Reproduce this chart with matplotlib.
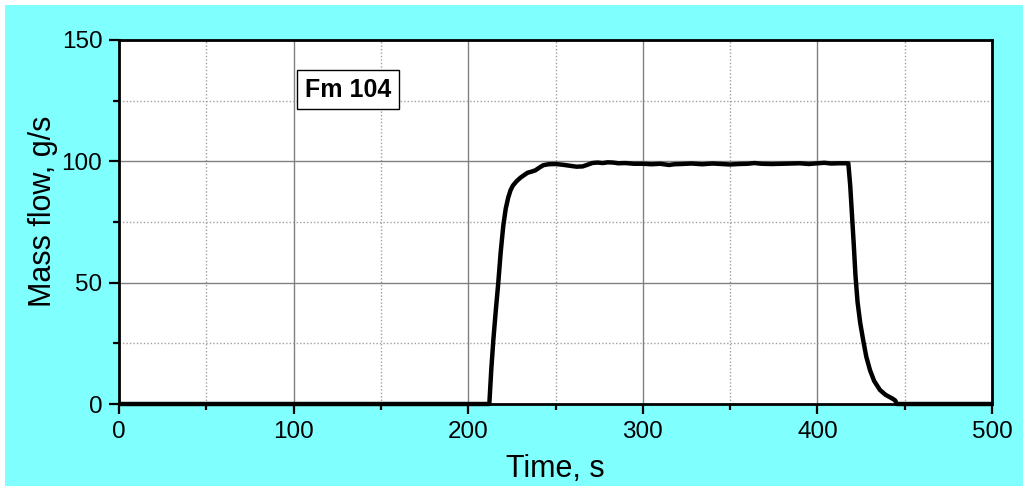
import matplotlib
matplotlib.use("Agg")
import matplotlib.pyplot as plt
from matplotlib.ticker import MultipleLocator
from matplotlib.patches import Rectangle

time_s = [0, 212.1, 213.2, 214.4, 215.8, 217.2, 218.6, 220.1, 221.5, 222.9, 224.2,
          225.6, 227.7, 230.0, 232.0, 234.0, 236.5, 238.5, 240.5, 243.0, 246.0,
          250.0, 254.0, 258.0, 262.0, 265.5, 268.0, 271.0, 274.0, 277.0, 280.0,
          283.0, 286.0, 290.0, 295.0, 300.0, 305.0, 310.0, 315.0, 318.0, 322.0,
          328.0, 334.0, 340.0, 345.0, 350.0, 355.0, 360.0, 364.0, 368.0, 374.0,
          380.0, 385.0, 390.0, 395.0, 400.0, 404.0, 408.0, 412.0, 415.0, 417.7,
          418.8, 419.8, 420.8, 421.8, 423.0, 424.5, 426.3, 428.0, 430.1, 432.5,
          435.8, 439.0, 441.5, 443.5, 444.6, 445.5, 500]
mass_flow = [0, 0, 14.0, 26.4, 38.5, 49.7, 62.5, 73.5, 80.5, 85.0, 88.0,
             90.0, 91.8, 93.3, 94.3, 95.3, 95.8, 96.3, 97.3, 98.4, 98.8,
             98.9, 98.6, 98.2, 97.8, 97.9, 98.5, 99.3, 99.5, 99.3, 99.6,
             99.5, 99.2, 99.3, 99.0, 99.0, 98.8, 99.0, 98.5, 98.8, 98.9,
             99.1, 98.8, 99.1, 98.9, 98.7, 98.9, 99.0, 99.3, 99.0, 98.9,
             99.0, 99.1, 99.2, 98.9, 99.2, 99.4, 99.1, 99.2, 99.2, 99.2,
             90.0, 78.0, 66.0, 53.0, 42.0, 33.5, 26.0, 19.5, 14.0, 9.5,
             5.8, 3.8, 2.8, 2.0, 1.4, 0, 0]

fig = plt.figure(figsize=(10.23, 4.86), dpi=100)
fig.patch.set_facecolor("white")
fig.patches.append(Rectangle((5 / 1023, 0), 1 - 5 / 1023, 1 - 5 / 486,
                             transform=fig.transFigure, facecolor="#80FFFF",
                             edgecolor="none", zorder=-10))

ax = fig.add_axes([119 / 1023, 1 - 404 / 486, (992 - 119) / 1023, (404 - 40) / 486])
ax.set_facecolor("white")
ax.plot(time_s, mass_flow, color="black", lw=3.2, zorder=5, clip_on=False,
        solid_joinstyle="round", solid_capstyle="butt")

ax.set_xlim(0, 500)
ax.set_ylim(0, 150)
ax.xaxis.set_major_locator(MultipleLocator(100))
ax.xaxis.set_minor_locator(MultipleLocator(50))
ax.yaxis.set_major_locator(MultipleLocator(50))
ax.yaxis.set_minor_locator(MultipleLocator(25))

ax.grid(which="major", color="#808080", lw=1.0, ls="-")
ax.grid(which="minor", color="#a0a0a0", lw=1.0, ls=(0, (1, 1.5)))
ax.set_axisbelow(True)

for s in ax.spines.values():
    s.set_linewidth(2)
    s.set_color("black")

font = "Liberation Sans"
ax.tick_params(which="major", direction="out", length=7, width=1.6,
               labelsize=17.5, pad=5, top=False, right=False)
ax.tick_params(which="minor", direction="out", length=4, width=1.6,
               top=False, right=False)
for lab in ax.get_xticklabels() + ax.get_yticklabels():
    lab.set_fontfamily(font)

ax.set_xlabel("Time, s", fontsize=22, fontfamily=font, labelpad=8)
ax.set_ylabel("Mass flow, g/s", fontsize=22, fontfamily=font)
ax.yaxis.set_label_coords((58 - 119) / 873, (404 - 211) / 364)

ax.text((348 - 119) / 873, (404 - 90) / 364, "Fm 104",
        transform=ax.transAxes, ha="center", va="center", fontsize=18,
        fontweight="bold", fontfamily=font, zorder=10,
        bbox=dict(boxstyle="square,pad=0.3", facecolor="white",
                  edgecolor="black", lw=1))

fig.savefig("out.png", dpi=100)
